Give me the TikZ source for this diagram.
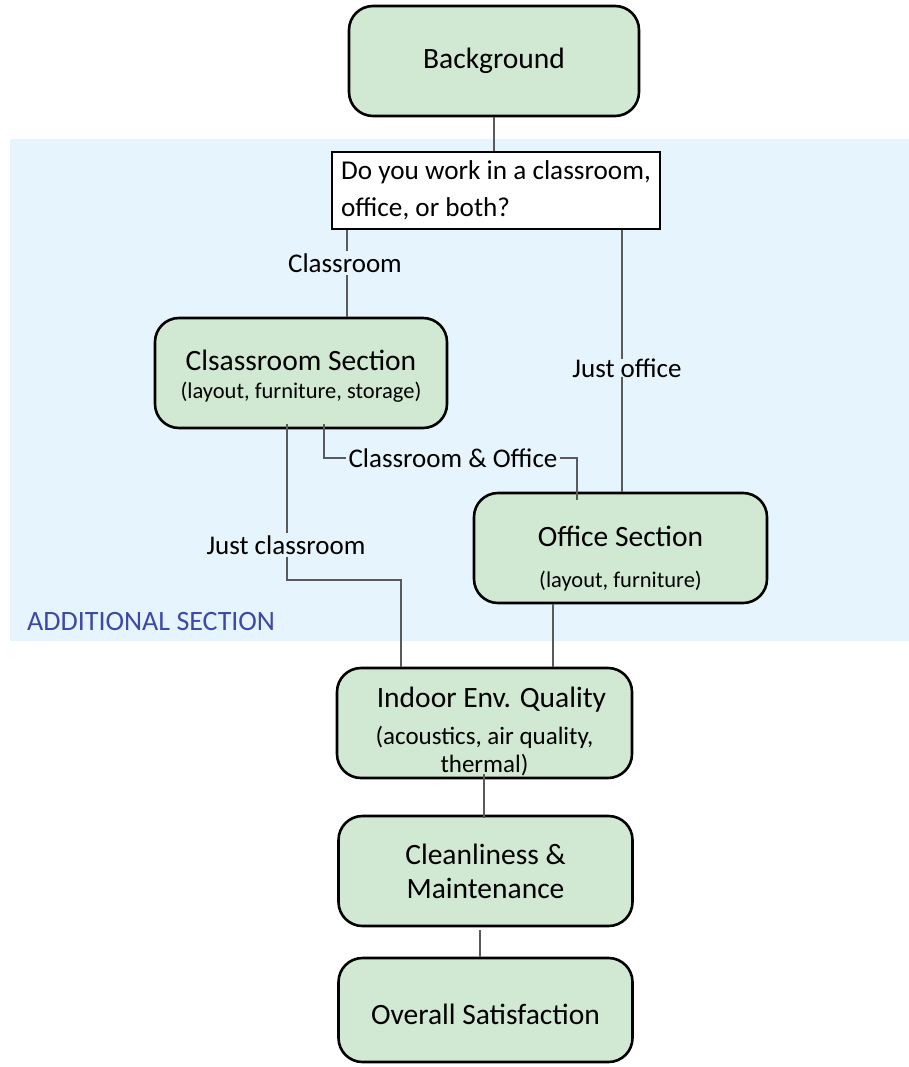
\documentclass[tikz,border=0pt]{standalone}
\usepackage{fontspec}
\setmainfont{Carlito}
\definecolor{boxgreen}{RGB}{209,232,210}
\definecolor{bandblue}{RGB}{230,245,253}
\definecolor{secblue}{RGB}{62,72,168}
\definecolor{conn}{RGB}{90,90,90}
\newcommand{\ttl}{\fontsize{29.5}{34}\selectfont}
\newcommand{\subt}[1]{\fontsize{22.5}{#1}\selectfont}
\newcommand{\lift}[1]{\rule{0pt}{#1}}
\tikzset{
  flowbox/.style={draw=black, line width=2.6pt, fill=boxgreen, rounded corners=24pt, align=flush center, inner sep=0pt, text width=280pt},
  qbox/.style={draw=black, line width=2.6pt, fill=white, align=left, inner sep=0pt},
  lbl/.style={inner sep=2pt, font=\fontsize{27}{30}\selectfont},
  connector/.style={draw=conn, line width=1.1pt},
}
\begin{document}
\begin{tikzpicture}[x=1pt,y=-1pt]
\useasboundingbox (0,0) rectangle (909,1067);
\fill[white] (0,0) rectangle (909,1067);
\fill[bandblue] (10,139) rectangle (909,641);

\node[flowbox, minimum width=290pt, minimum height=110pt, font=\ttl] (bg) at (494,61) {Background};
\node[qbox, minimum width=328pt, minimum height=77pt, font=\fontsize{27.2}{37}\selectfont] (q) at (496,190.5) {Do you work in a classroom,\\office, or both?};
\node[flowbox, minimum width=292pt, minimum height=110pt] (cls) at (301,373) {{\ttl\lift{26pt}Clsassroom Section\par}{\subt{28}(layout, furniture, storage)\par}};
\node[flowbox, minimum width=293pt, minimum height=110pt] (off) at (620.5,548) {{\ttl\lift{42pt}Office Section\par}{\subt{41}(layout, furniture)\par}};
\node[flowbox, minimum width=295pt, minimum height=110pt] (ieq) at (484.5,723) {{\ttl\lift{38pt}\hspace*{14pt}Indoor Env. Quality\par}{\fontsize{25}{37}\selectfont (acoustics, air quality,\par}{\fontsize{25}{28}\selectfont thermal)\par}};
\node[flowbox, minimum width=294pt, minimum height=110pt, font=\ttl] (cm) at (485.5,871) {Cleanliness \&\par Maintenance};
\node[flowbox, minimum width=294pt, minimum height=104pt, font=\ttl] (os) at (485.5,1010) {\lift{30pt}Overall Satisfaction};

\node[lbl] (lc) at (345,263) {Classroom};
\node[lbl] (ljo) at (627,368) {Just office};
\node[lbl] (lco) at (453,458) {Classroom \& Office};
\node[lbl] (ljc) at (286,545) {Just classroom};
\node[anchor=west, inner sep=0pt, text=secblue, font=\fontsize{28}{32}\selectfont] (add) at (27,622) {ADDITIONAL SECTION};

\coordinate (xq) at (347,0);
\coordinate (xo) at (622,0);
\coordinate (xc) at (287,0);
\coordinate (xco) at (324,0);
\coordinate (xoc) at (577,0);
\coordinate (xj) at (401,0);
\coordinate (xs) at (553,0);
\coordinate (xi) at (484,0);
\coordinate (xm) at (480,0);
\coordinate (turn) at (401,580);

\draw[connector] (bg.south) -- (bg.south |- q.north);
\draw[connector] (q.south -| xq) -- (lc.north -| xq);
\draw[connector] (lc.south -| xq) -- (cls.north -| xq);
\draw[connector] (q.south -| xo) -- ([yshift=-3pt]ljo.north -| xo);
\draw[connector] ([yshift=3pt]ljo.south -| xo) -- (off.north -| xo);
\draw[connector] ([yshift=5pt]cls.south -| xco) |- (lco.west);
\draw[connector] (lco.east) -| ([yshift=-8pt]off.north -| xoc);
\draw[connector] ([yshift=5pt]cls.south -| xc) -- (ljc.north -| xc);
\draw[connector] (ljc.south -| xc) |- (turn) -- (ieq.north -| xj);
\draw[connector] (off.south -| xs) -- (ieq.north -| xs);
\draw[connector] ([yshift=5pt]ieq.south -| xi) -- ([yshift=-3pt]cm.north -| xi);
\draw[connector] ([yshift=-3pt]cm.south -| xm) -- (os.north -| xm);
\end{tikzpicture}
\end{document}
